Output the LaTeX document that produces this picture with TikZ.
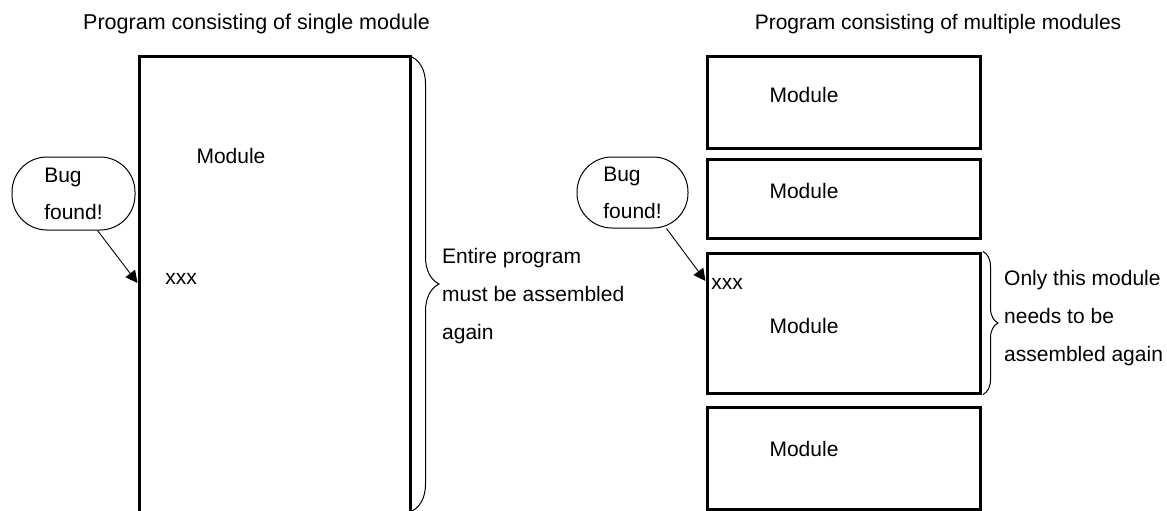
\documentclass[tikz,border=0pt]{standalone}
\usepackage{fontspec}
\setmainfont{Liberation Sans}
\usetikzlibrary{arrows.meta, decorations.pathreplacing, positioning}

\tikzset{
  txt/.style={font=\fontsize{21}{25}\selectfont, inner sep=0pt},
  modbox/.style={draw, line width=3pt, minimum width=273pt, inner sep=0pt},
  bubble/.style={draw, line width=1pt, rounded corners=35pt, font=\fontsize{21}{37}\selectfont, align=left, inner sep=0pt},
  bugarrow/.style={line width=0.9pt, -{Triangle[length=12pt, width=12pt]}},
  bracket/.style={line width=1pt, decorate, decoration={brace, amplitude=#1}},
  note/.style={txt, anchor=west, align=left, font=\fontsize{21}{38}\selectfont},
}

\begin{document}
\begin{tikzpicture}[x=1pt, y=-1pt]
\useasboundingbox (0,0) rectangle (1167,511);

% single module
\node[txt, anchor=east, font=\fontsize{21.5}{25}\selectfont] (titleL) at (430,24) {Program consisting of single module};
\coordinate (bigSW) at (139,511);
\coordinate (bigNE) at (410,57);
\coordinate (bigSE) at (410,511);
\draw[line width=3pt] (bigSW) |- (bigNE) -- (bigSE);
\node[txt] (modL) at (231,156) {Module};
\node[txt] (xxxL) at (181,279) {xxx};

\node[bubble, minimum width=123pt, minimum height=73pt] (bugL) at (73.5,193.5) {Bug\\found!};
\coordinate (hitL) at (137.5,283);
\draw[bugarrow] ([xshift=24pt]bugL.south) -- (hitL);

\draw[bracket=27pt] ([xshift=2pt]bigNE) -- ([xshift=2pt]bigSE);
\node[note] (noteL) at (442,296) {Entire program\\must be assembled\\again};

% multiple modules
\node[txt] (titleR) at (938,24) {Program consisting of multiple modules};
\node[modbox, minimum height=91pt] (mod1) at (843.5,102.5) {};
\node[modbox, minimum height=79pt] (mod2) at (843.5,198.5) {};
\node[modbox, minimum height=140pt] (mod3) at (843.5,323) {};
\node[modbox, minimum height=102pt] (mod4) at (843.5,458) {};
\node[txt] (lbl1) at (804,95) {Module};
\node[txt] (lbl2) at (804,190.5) {Module};
\node[txt] (xxxR) at (727,284) {xxx};
\node[txt] (lbl3) at (804,326) {Module};
\node[txt] (lbl4) at (804,448.5) {Module};

\node[bubble, minimum width=111pt, minimum height=71pt] (bugR) at (632.5,192.5) {Bug\\found!};
\coordinate (hitR) at (705.5,281);
\draw[bugarrow] ([xshift=34pt]bugR.south) -- (hitR);

\draw[bracket=15pt] ([xshift=1.5pt]mod3.north east) -- ([xshift=1.5pt]mod3.south east);
\node[note] (noteR) at (1004,318) {Only this module\\needs to be\\assembled again};
\end{tikzpicture}
\end{document}
